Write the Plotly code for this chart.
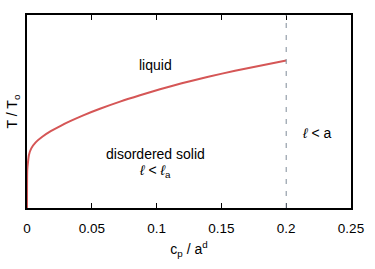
import plotly.graph_objects as go

# Phase boundary
cp = [0.0, 0.0002, 0.0008, 0.0015, 0.0033, 0.0067, 0.0118, 0.0183, 0.0260,
      0.0337, 0.0434, 0.0563, 0.0718, 0.0872, 0.1026, 0.1194, 0.1399, 0.1605, 0.2]
T = [0.0, 0.197, 0.240, 0.275, 0.309, 0.340, 0.369, 0.398, 0.426,
     0.451, 0.480, 0.514, 0.551, 0.584, 0.615, 0.646, 0.680, 0.711, 0.764]
x_ticks = [0, 0.05, 0.1, 0.15, 0.2, 0.25]
x_tick_labels = ["0", "0.05", "0.1", "0.15", "0.2", "0.25"]
cutoff = 0.2

font = "Liberation Sans, Arial, sans-serif"

fig = go.Figure()
fig.add_trace(go.Scatter(x=cp, y=T, mode="lines",
                         line=dict(color="#d55656", width=2, shape="spline", smoothing=0.6),
                         hoverinfo="skip"))
fig.add_shape(type="line", x0=cutoff, x1=cutoff, y0=0, y1=1, xref="x", yref="y",
              line=dict(color="#7f8c99", width=1, dash="5px,7px"))

ann_font = dict(size=14, color="black", family=font)
fig.add_annotation(x=0.0995, y=0.741, text="liquid", showarrow=False, font=ann_font)
fig.add_annotation(x=0.099, y=0.28, text="disordered solid", showarrow=False, font=ann_font)
fig.add_annotation(x=0.099, y=0.19, text="<i>ℓ</i> &lt; <i>ℓ</i><sub>a</sub>",
                   showarrow=False, font=ann_font)
fig.add_annotation(x=0.2232, y=0.39, text="<i>ℓ</i> &lt; a", showarrow=False, font=ann_font)

fig.update_layout(
    width=375, height=269,
    margin=dict(l=27, r=24, t=15, b=61),
    paper_bgcolor="white", plot_bgcolor="white",
    showlegend=False,
    font=dict(family=font, size=13.5, color="black"),
    xaxis=dict(range=[0, 0.25], tickvals=x_ticks, ticktext=x_tick_labels,
               ticks="inside", ticklen=5, tickwidth=1, tickcolor="black",
               showline=True, linecolor="black", linewidth=1.5, mirror="ticks",
               showgrid=False, zeroline=False,
               title=dict(text="c<sub>p</sub> / a<sup>d</sup>", standoff=9,
                          font=dict(size=14)),
               ticklabelstandoff=7),
    yaxis=dict(range=[0, 1], showticklabels=False, ticks="",
               showline=True, linecolor="black", linewidth=1.5, mirror=True,
               showgrid=False, zeroline=False,
               title=dict(text="T / T<sub>o</sub>", standoff=4, font=dict(size=14))),
)

fig.write_html("out.html")
